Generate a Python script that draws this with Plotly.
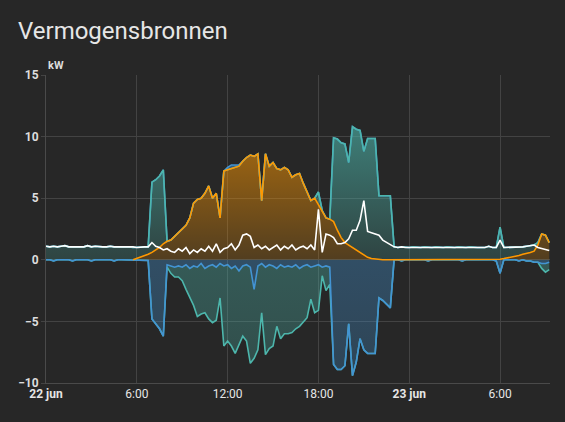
import plotly.graph_objects as go

# time grid: quarter hours since 22 jun 00:00
hours = [i * 0.25 for i in range(134)]

N = None
solar = [N, N, N, N, N, N, N, N, N, N, N, N, N, N, N, N, N, N, N, N,
         N, N, N, 0.0,
         0.1, 0.2, 0.3, 0.45,
         0.6, 0.8, 1.0, 1.3,
         1.5, 1.6, 1.9, 2.2,
         2.5, 2.8, 3.4, 4.6,
         4.9, 5.0, 5.4, 6.0,
         5.0, 5.4, 3.4, 7.2,
         7.3, 7.4, 7.5, 7.6,
         8.0, 8.3, 8.5, 8.4,
         8.6, 4.8, 8.6, 7.6,
         7.9, 7.4, 7.3, 7.5,
         7.3, 6.7, 6.9, 7.0,
         6.2, 5.5, 4.8, 5.0,
         4.5, 4.0, 3.4, 3.3,
         3.1, 2.4, 1.8, 1.4,
         1.2, 1.0, 0.8, 0.6,
         0.35, 0.2, 0.1, 0.05,
         0, 0, 0, 0, 0, 0, 0, 0, 0, 0, 0, 0, 0, 0, 0, 0,
         0, 0, 0, 0, 0, 0, 0, 0, 0, 0, 0, 0, 0, 0, 0, 0,
         0.05, 0.1, 0.15, 0.2,
         0.3, 0.35, 0.45, 0.5,
         0.6, 0.7, 1.2, 2.1,
         2.0, 1.4]

battery_out = [1.1, 1.05, 1.1, 1.05,
               1.1, 1.15, 1.05, 1.05,
               1.1, 1.05, 1.05, 1.15,
               1.05, 1.1, 1.05, 1.05,
               1.05, 1.1, 1.05, 1.05,
               1.1, 1.05, 1.05, 1.0,
               0.9, 0.85, 0.75, 0.6,
               5.7, 5.7, 5.8, 6.0,
               0, 0, 0, 0,
               0, 0, 0, 0,
               0, 0, 0, 0,
               0, 0, 0, 0,
               0, 0, 0, 0,
               0, 0, 0, 0,
               0, 0, 0, 0,
               0, 0, 0, 0,
               0, 0, 0, 0,
               0, 0, 0, 0,
               1.0, 0, 0, 0,
               6.8, 7.4, 7.7, 8.0,
               6.7, 9.8, 9.8, 9.9,
               8.45, 9.65, 9.75, 9.8,
               5.2, 5.2, 5.2, 5.2,
               1.05, 1.0, 1.05, 1.0,
               1.0, 1.05, 1.0, 1.0,
               1.05, 1.0, 1.0, 1.05,
               1.0, 1.0, 1.05, 1.0,
               1.0, 1.05, 1.0, 1.0,
               1.05, 1.0, 1.0, 1.0,
               1.0, 1.1, 1.0, 1.0,
               2.6, 0.9, 0.85, 0.8,
               0.7, 0.65, 0.6, 0.6,
               0.55, 0.5, 0.2, 0,
               0, 0]

grid_import = [0] * 48 + [0.2, 0.3, 0.2, 0.1] + [0] * 82

grid_export = [0, 0, -0.1, 0,
               0, 0, 0, -0.1,
               0, 0, 0, 0,
               -0.1, 0, 0, 0,
               0, 0, -0.1, 0,
               0, 0, 0, 0,
               0, 0, 0, -0.05,
               -4.8, -5.2, -5.6, -6.2,
               -0.4, -0.5, -0.6, -0.5,
               -0.6, -0.4, -0.7, -0.5,
               -0.6, -0.3, -0.7, -0.5,
               -0.4, -0.6, -0.3, -0.5,
               -0.4, -0.7, -0.5, -0.9,
               -0.5, -0.4, -0.6, -2.4,
               -0.5, -0.3, -0.6, -0.4,
               -0.5, -0.7, -0.4, -0.6,
               -0.5, -0.6, -0.4, -0.7,
               -0.5, -0.4, -0.6, -0.5,
               -0.4, -0.6, -0.5, -0.6,
               -8.5, -8.9, -8.9, -8.6,
               -5.2, -9.4, -8.3, -6.4,
               -7.3, -7.6, -7.6, -7.6,
               -3.1, -3.3, -3.6, -3.9,
               0, 0, -0.1, 0,
               0, 0, 0, 0,
               0, -0.1, 0, 0,
               0, 0, 0, 0,
               0, 0, -0.1, 0,
               0, 0, 0, 0,
               0, 0, 0, -0.1,
               -1.1, 0, 0, 0,
               0, -0.1, 0, -0.1,
               -0.1, -0.2, -0.2, -0.3,
               -0.3, -0.2]

battery_in = [0] * 32 + [
    -0.2, -0.6, -0.8, -0.9,
    -1.1, -2.0, -2.3, -3.2,
    -4.0, -4.1, -3.6, -4.3,
    -4.7, -4.3, -2.8, -6.5,
    -6.2, -6.3, -7.1, -6.0,
    -5.7, -6.2, -7.8, -5.6,
    -6.8, -4.0, -7.1, -6.8,
    -6.5, -4.7, -6.0, -5.4,
    -5.5, -5.3, -5.2, -4.7,
    -4.5, -4.3, -2.6, -3.8,
    -3.7, -0.7, -2.0, -1.4] + [0] * 52 + [0, 0, 0, -0.4, -0.7, -0.6]

usage = [1.1, 1.05, 1.1, 1.05,
         1.1, 1.15, 1.05, 1.05,
         1.1, 1.05, 1.05, 1.15,
         1.05, 1.1, 1.05, 1.05,
         1.05, 1.1, 1.05, 1.05,
         1.1, 1.05, 1.05, 1.05,
         1.0, 1.05, 1.05, 1.05,
         1.4, 1.1, 1.0, 0.8,
         0.9, 0.7, 0.6, 0.9,
         0.7, 1.0, 0.5, 0.8,
         0.6, 0.9, 0.7, 1.1,
         0.7, 1.3, 0.6, 0.9,
         1.0, 1.3, 0.8, 1.2,
         2.0, 2.1, 1.9, 1.0,
         1.2, 0.9, 1.1, 0.8,
         1.0, 1.2, 0.8, 1.1,
         0.9, 1.2, 0.8, 1.0,
         1.1, 0.9, 1.2, 0.8,
         4.1, 0.6, 2.1, 2.0,
         1.8, 1.3, 1.3, 1.4,
         1.7, 2.4, 2.4, 3.2,
         4.8, 2.3, 2.2, 2.1,
         2.0, 1.6, 1.4, 1.2,
         1.05, 1.0, 1.05, 1.0,
         1.0, 1.05, 1.0, 1.0,
         1.05, 1.0, 1.0, 1.05,
         1.0, 1.0, 1.05, 1.0,
         1.0, 1.05, 1.0, 1.0,
         1.05, 1.0, 1.0, 1.0,
         1.0, 1.1, 1.0, 1.0,
         1.6, 1.0, 1.0, 1.0,
         1.0, 1.0, 1.05, 1.1,
         1.15, 1.2, 1.0, 0.9,
         0.85, 0.75]

tick_hours = [0, 6, 12, 18, 24, 30]
tick_labels = ["<b>22 jun</b>", "6:00", "12:00", "18:00", "<b>23 jun</b>", "6:00"]

ORANGE = (255, 152, 0)
TEAL = (77, 182, 172)
BLUE = (67, 148, 211)


def rgba(c, a):
    return f"rgba({c[0]},{c[1]},{c[2]},{a})"


def hexc(c):
    return "#%02x%02x%02x" % c


solar_f = [v if v is not None else 0 for v in solar]

fig = go.Figure()


def area(y, c, group, pos):
    if pos:
        grad = dict(type="vertical", start=0, stop=11,
                    colorscale=[[0, rgba(c, 0.2)], [1, rgba(c, 0.62)]])
    else:
        grad = dict(type="vertical", start=-10, stop=0,
                    colorscale=[[0, rgba(c, 0.26)], [1, rgba(c, 0.36)]])
    fig.add_trace(go.Scatter(x=hours, y=y, mode="lines", stackgroup=group,
                             line=dict(width=0), fillgradient=grad,
                             fillcolor=rgba(c, 0.4), hoverinfo="skip",
                             showlegend=False))


area(solar_f, ORANGE, "pos", True)
area(battery_out, TEAL, "pos", True)
area(grid_import, BLUE, "pos", True)
area(grid_export, BLUE, "neg", False)
area(battery_in, TEAL, "neg", False)

# stacked edges for the series lines
pos1 = solar_f
pos2 = [a + b for a, b in zip(pos1, battery_out)]
pos3 = [a + b for a, b in zip(pos2, grid_import)]
neg1 = grid_export
neg2 = [a + b for a, b in zip(neg1, battery_in)]
solar_line = [p if s is not None else None for p, s in zip(pos1, solar)]


def line(y, c, w=1.6):
    fig.add_trace(go.Scatter(x=hours, y=y, mode="lines",
                             line=dict(color=c, width=w, shape="linear"),
                             hoverinfo="skip", showlegend=False,
                             connectgaps=False))


line(neg2, hexc(TEAL))
line(neg1, hexc(BLUE))
line(pos3, hexc(BLUE))
line(pos2, hexc(TEAL))
line(solar_line, hexc(ORANGE))
line(usage, "#ffffff", 1.6)

BG = "#272727"
GRID = "#434343"

fig.update_layout(
    width=565, height=422,
    paper_bgcolor=BG, plot_bgcolor=BG,
    margin=dict(l=46, r=15, t=75, b=39),
    font=dict(family="Roboto, sans-serif", color="#e1e1e1", size=12),
    title=dict(text="Vermogensbronnen", x=18 / 565, xanchor="left",
               y=1 - 31 / 422, yanchor="middle",
               font=dict(size=24, color="#e6e6e6", family="Roboto")),
    xaxis=dict(range=[0, 33.3], tickmode="array", tickvals=tick_hours,
               ticktext=tick_labels, showgrid=True, gridcolor=GRID,
               gridwidth=1, zeroline=False, showline=True,
               linecolor="#4a4a4a", ticks="", fixedrange=True,
               tickfont=dict(size=12, color="#e6e6e6")),
    yaxis=dict(range=[-10, 15], tickmode="array",
               tickvals=[-10, -5, 0, 5, 10, 15], showgrid=True,
               gridcolor=GRID, gridwidth=1, zeroline=False,
               showline=True, linecolor="#4a4a4a", ticks="outside",
               ticklen=4, tickcolor=GRID, fixedrange=True,
               tickfont=dict(size=12, color="#dddddd", weight=700)),
    annotations=[dict(text="<b>kW</b>", xref="paper", yref="paper",
                      x=0, y=1, xanchor="left", yanchor="bottom",
                      yshift=1, showarrow=False,
                      font=dict(size=11, color="#dddddd"))],
)

fig.write_html("out.html")
